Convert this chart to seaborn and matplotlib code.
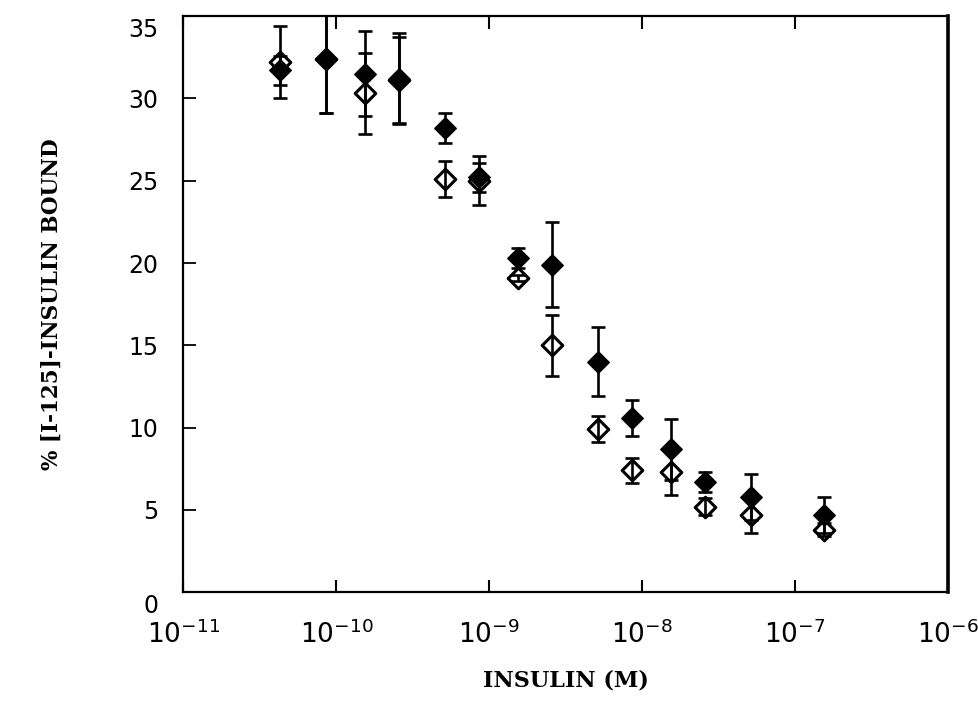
import numpy as np
import pandas as pd
import seaborn as sns
import matplotlib
matplotlib.use("Agg")
import matplotlib.pyplot as plt
import matplotlib.transforms as mtransforms
from matplotlib.ticker import FixedLocator, NullLocator

# ---- data ----
insulin_M = [4.3e-11, 8.6e-11, 1.55e-10, 2.58e-10, 5.15e-10, 8.6e-10, 1.55e-9,
             2.58e-9, 5.15e-9, 8.6e-9, 1.55e-8, 2.58e-8, 5.15e-8, 1.55e-7]
filled_bound = [31.7, 32.4, 31.5, 31.2, 28.2, 25.2, 20.3, 19.9, 14.0, 10.6, 8.7, 6.7, 5.8, 4.7]
filled_err = [0.9, 3.3, 2.6, 2.75, 0.9, 0.9, 0.6, 2.6, 2.1, 1.1, 1.85, 0.6, 1.4, 1.1]
open_bound = [32.2, 32.4, 30.3, 31.1, 25.1, 25.0, 19.1, 15.0, 9.9, 7.4, 7.3, 5.2, 4.7, 3.8]
open_err = [2.2, 3.3, 2.45, 2.6, 1.1, 1.5, 0.2, 1.85, 0.8, 0.75, 1.4, 0.5, 1.1, 0.4]

y_ticks = [0, 5, 10, 15, 20, 25, 30, 35]
x_ticks = [1e-11, 1e-10, 1e-9, 1e-8, 1e-7, 1e-6]
x_tick_labels = [r"$\mathregular{10^{-11}}$", r"$\mathregular{10^{-10}}$", r"$\mathregular{10^{-9}}$",
                 r"$\mathregular{10^{-8}}$", r"$\mathregular{10^{-7}}$", r"$\mathregular{10^{-6}}$"]
x_label = "INSULIN (M)"
y_label = "% [I-125]-INSULIN BOUND"

df = pd.DataFrame({
    "x": insulin_M * 2,
    "y": filled_bound + open_bound,
    "err": filled_err + open_err,
    "series": ["filled"] * len(insulin_M) + ["open"] * len(insulin_M),
})

sns.set_theme(style="white")
plt.rcParams["font.family"] = ["DejaVu Sans"]
plt.rcParams["mathtext.fontset"] = "dejavusans"
plt.rcParams["text.color"] = "black"
plt.rcParams["axes.labelcolor"] = "black"

fig = plt.figure(figsize=(9.79, 7.19), dpi=100)
ax = fig.add_axes([0.1874, 0.1762, 0.9683 - 0.1874, 0.9777 - 0.1762])

# markers via seaborn
sns.scatterplot(data=df[df.series == "open"], x="x", y="y", marker="D", s=110,
                color="white", edgecolor="black", linewidth=2.2, ax=ax, zorder=3, legend=False)
sns.scatterplot(data=df[df.series == "filled"], x="x", y="y", marker="D", s=120,
                color="black", edgecolor="black", linewidth=1, ax=ax, zorder=4, legend=False)

# error bars
for name in ["open", "filled"]:
    d = df[df.series == name]
    ax.errorbar(d["x"], d["y"], yerr=d["err"], fmt="none", ecolor="black",
                elinewidth=1.9, capsize=5, capthick=1.9, zorder=5)

ax.set_xscale("log")
ax.set_xlim(1e-11, 1e-6)
ax.set_ylim(0, 35)

ax.xaxis.set_major_locator(FixedLocator(x_ticks))
ax.xaxis.set_minor_locator(NullLocator())
ax.set_xticklabels(x_tick_labels, fontsize=19)
ax.set_yticks(y_ticks)
ax.set_yticklabels([str(v) for v in y_ticks], fontsize=17)

ax.tick_params(axis="x", which="major", direction="in", length=9, width=1.5,
               top=True, bottom=True, pad=20, colors="black", labelcolor="black")
ax.tick_params(axis="y", which="major", direction="in", length=9, width=1.3,
               left=True, right=False, pad=18, colors="black", labelcolor="black")

for side in ["left", "bottom", "top"]:
    ax.spines[side].set_linewidth(1.6)
    ax.spines[side].set_color("black")
ax.spines["right"].set_linewidth(2.6)
ax.spines["right"].set_color("black")

# shift the 35 and 0 labels slightly down as in the reference
for lbl in ax.get_yticklabels():
    if lbl.get_text() in ("35", "0"):
        lbl.set_transform(lbl.get_transform() + mtransforms.ScaledTranslation(0, -8 / 72, fig.dpi_scale_trans))

ax.set_xlabel(x_label, fontsize=16, fontweight="bold", family="DejaVu Serif", labelpad=15, color="black")
ax.set_ylabel(y_label, fontsize=15.5, fontweight="bold", family="DejaVu Serif", labelpad=47, color="black")

fig.savefig("out.png", dpi=100, facecolor="white")
